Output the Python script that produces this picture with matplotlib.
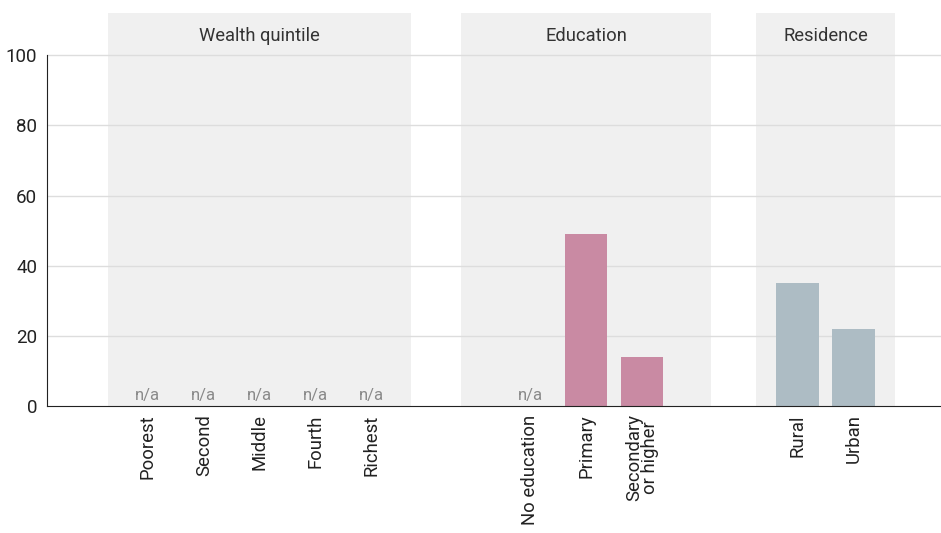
import matplotlib
matplotlib.use("Agg")
import matplotlib.pyplot as plt

plt.rcParams['font.family'] = ['Roboto', 'DejaVu Sans']

# categorias y valores (None = n/a)
riqueza = ["Poorest", "Second", "Middle", "Fourth", "Richest"]
riqueza_val = [None, None, None, None, None]
educacion = ["No education", "Primary", "Secondary\nor higher"]
educacion_val = [None, 49, 14]
residencia = ["Rural", "Urban"]
residencia_val = [35, 22]

grupos = ["Wealth quintile", "Education", "Residence"]
colores = [None, "#c98aa3", "#adbcc4"]

# posiciones de cada grupo (en ranuras)
pos_riqueza = [0, 1, 2, 3, 4]
pos_educacion = [6.83, 7.83, 8.83]
pos_residencia = [11.61, 12.61]
# margen del panel gris alrededor de cada grupo
margen = [0.71, 1.23, 0.74]

fig = plt.figure(figsize=(9.41, 5.33), dpi=100)
ax = fig.add_axes([0.05, 0.238, 0.95, 0.7375])

ax.set_xlim(-1.80, 14.17)
ax.set_ylim(0, 112)

todas_pos = []
todas_etiq = []
datos = [(riqueza, riqueza_val, pos_riqueza),
         (educacion, educacion_val, pos_educacion),
         (residencia, residencia_val, pos_residencia)]

for g, (etiq, vals, pos) in enumerate(datos):
    izq = pos[0] - margen[g]
    der = pos[-1] + margen[g]
    ax.axvspan(izq, der, ymin=0, ymax=1, color="#f0f0f0", zorder=0, lw=0)
    ax.text((izq + der) / 2, 105.5, grupos[g], ha="center", va="center",
            fontsize=13.2, color="#333333")
    for p, v in zip(pos, vals):
        if v is None:
            ax.text(p, 0.8, "n/a", ha="center", va="bottom", fontsize=12, color="#8a8a8a")
        else:
            ax.bar(p, v, width=0.76, color=colores[g], zorder=3)
    todas_pos += pos
    todas_etiq += etiq

# lineas de la cuadricula
for yv in [20, 40, 60, 80, 100]:
    ax.axhline(yv, color="#dddddd", lw=1, zorder=1)

ax.set_yticks([0, 20, 40, 60, 80, 100])
ax.set_yticklabels(["0", "20", "40", "60", "80", "100"], fontsize=13.5, color="#222222")
ax.set_xticks(todas_pos)
ax.set_xticklabels(todas_etiq, rotation=90, fontsize=13.3, color="#222222",
                   va="top", ha="center", linespacing=0.85)
ax.tick_params(axis="y", length=0, pad=7)
ax.tick_params(axis="x", length=0, pad=6)

for s in ["top", "right"]:
    ax.spines[s].set_visible(False)
ax.spines["left"].set_bounds(0, 100)
ax.spines["left"].set_color("#222222")
ax.spines["bottom"].set_color("#222222")
ax.spines["left"].set_zorder(5)
ax.spines["bottom"].set_zorder(5)

fig.savefig("out.png", dpi=100)
